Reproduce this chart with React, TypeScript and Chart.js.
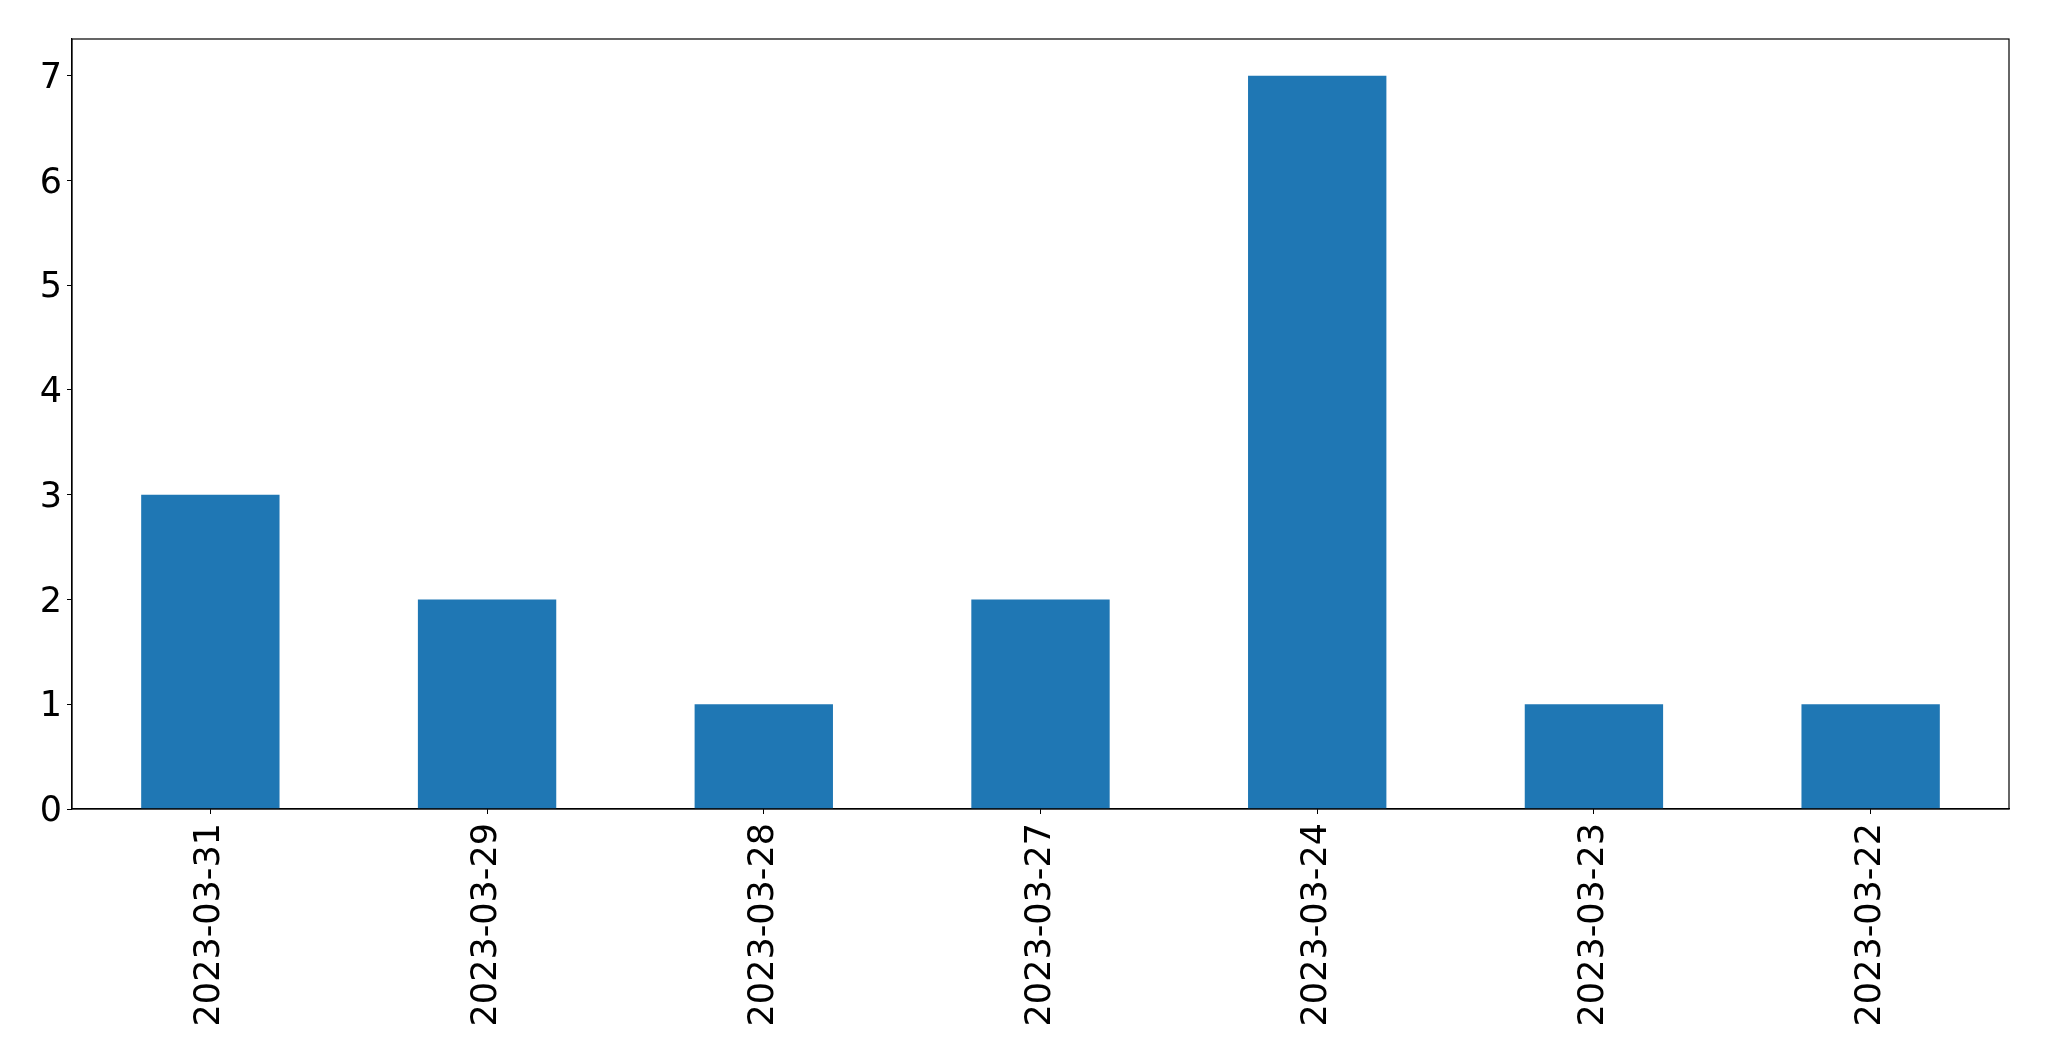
import React, { useEffect, useRef } from "react";
import { Chart, registerables } from "chart.js";

Chart.register(...registerables);

const categories = ["2023-03-31", "2023-03-29", "2023-03-28", "2023-03-27", "2023-03-24", "2023-03-23", "2023-03-22"];
const counts = [3, 2, 1, 2, 7, 1, 1];
const yTicks = [0, 1, 2, 3, 4, 5, 6, 7];

const framePlugin = {
  id: "frame",
  afterDraw(chart: any) {
    const { ctx, chartArea } = chart;
    ctx.save();
    ctx.strokeStyle = "#000";
    ctx.lineWidth = 1.2;
    ctx.strokeRect(chartArea.left, chartArea.top, chartArea.right - chartArea.left, chartArea.bottom - chartArea.top);
    ctx.restore();
  },
};

export default function App() {
  const ref = useRef<HTMLCanvasElement>(null);
  useEffect(() => {
    if (!ref.current) return;
    const font = { family: "DejaVu Sans", size: 35 };
    const chart = new Chart(ref.current, {
      type: "bar",
      data: {
        labels: categories,
        datasets: [
          {
            data: counts,
            backgroundColor: "#1f77b4",
            barPercentage: 0.5,
            categoryPercentage: 1,
          },
        ],
      },
      options: {
        animation: false,
        responsive: true,
        maintainAspectRatio: false,
        layout: { padding: { left: 0, top: 39, right: 40, bottom: 0 } },
        plugins: { legend: { display: false }, tooltip: { enabled: false } },
        scales: {
          x: {
            offset: true,
            grid: { display: true, drawOnChartArea: false, drawTicks: true, tickLength: 5, color: "#000", offset: false },
            border: { display: true, color: "#000", width: 1.2 },
            ticks: { color: "#000", font, maxRotation: 90, minRotation: 90, padding: 9, autoSkip: false },
            afterFit(scale: any) {
              scale.height = 252;
            },
          },
          y: {
            min: 0,
            max: 7.35,
            afterBuildTicks(scale: any) {
              scale.ticks = yTicks.map((v) => ({ value: v }));
            },
            grid: { display: true, drawOnChartArea: false, drawTicks: true, tickLength: 5, color: "#000" },
            border: { display: true, color: "#000", width: 1.2 },
            ticks: { color: "#000", font, padding: 5, labelOffset: 3 },
            afterFit(scale: any) {
              scale.width = 72;
            },
          },
        },
      },
      plugins: [framePlugin],
    });
    return () => chart.destroy();
  }, []);
  return (
    <div style={{ position: "fixed", left: 0, top: 0, width: 2049, height: 1061, background: "#fff" }}>
      <canvas ref={ref} />
    </div>
  );
}
